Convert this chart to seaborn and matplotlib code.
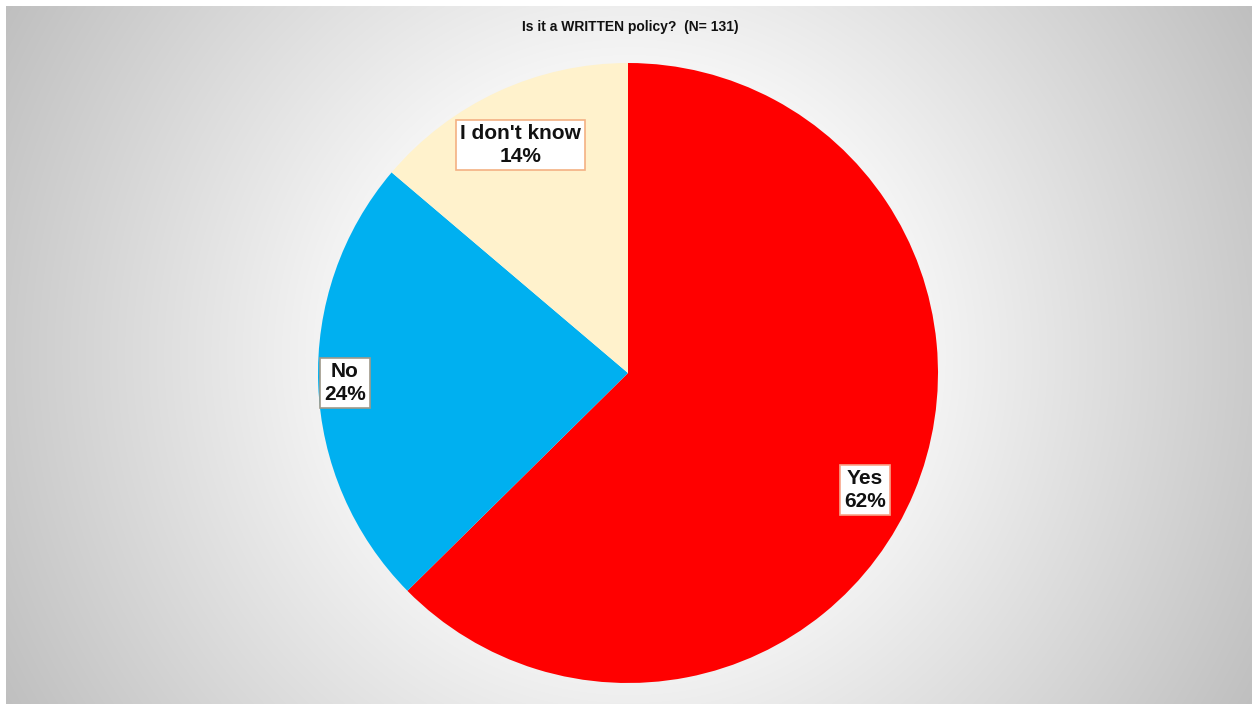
import numpy as np
import matplotlib
matplotlib.use("Agg")
import matplotlib.pyplot as plt
import seaborn as sns

categories = ["Yes", "No", "I don't know"]
shares = [62.6, 23.6, 13.8]          # slice sizes
pct_labels = ["62%", "24%", "14%"]   # printed data labels
title = "Is it a WRITTEN policy?  (N= 131)"

colors = ["#FF0000", "#00B0F0", "#FFF2CC"]
box_edges = ["#F8A58A", "#A09A8A", "#F4B183"]
label_pos = [(0.765, -0.377), (-0.913, -0.032), (-0.348, 0.735)]

sns.set_theme(style="white")
plt.rcParams['font.family'] = ['Liberation Sans', 'DejaVu Sans']

W, H = 1252, 704
fig = plt.figure(figsize=(W / 100, H / 100), dpi=100)
fig.patch.set_facecolor("white")

# radial gradient background (leaving thin white strip top and left)
bg = fig.add_axes([6 / W, 0, (W - 6) / W, (H - 6) / H])
yy, xx = np.mgrid[0:H - 6, 0:W - 6]
cx, cy = (W - 6) / 2, (H - 6) / 2
d = np.sqrt((xx - cx) ** 2 + (yy - cy) ** 2) / np.sqrt(cx ** 2 + cy ** 2)
t = np.clip((d - 0.3) / 0.7, 0, 1)
g = 1.0 - t * (1.0 - 0.75)
img = np.dstack([g, g, g])
bg.imshow(img, aspect="auto", interpolation="bilinear")
bg.axis("off")

cxp, cyp, r = 628, 373, 310
ax = fig.add_axes([(cxp - r) / W, (H - cyp - r) / H, 2 * r / W, 2 * r / H])
ax.pie(shares, colors=colors, startangle=90, counterclock=False,
       wedgeprops=dict(linewidth=0), radius=1.0)
ax.set_xlim(-1, 1)
ax.set_ylim(-1, 1)
ax.set_aspect("auto")
ax.axis("off")

for cat, lab, (x, y), ec in zip(categories, pct_labels, label_pos, box_edges):
    ax.text(x, y, f"{cat}\n{lab}", ha="center", va="center", fontsize=15,
            fontweight="bold", color="#111111", linespacing=1.25,
            bbox=dict(boxstyle="square,pad=0.2", facecolor="white",
                      edgecolor=ec, linewidth=1.2))

fig.text(630 / W, 1 - 27 / H, title, ha="center", va="center",
         fontsize=10, fontweight="bold", color="#111111")

fig.savefig("out.png", dpi=100)
